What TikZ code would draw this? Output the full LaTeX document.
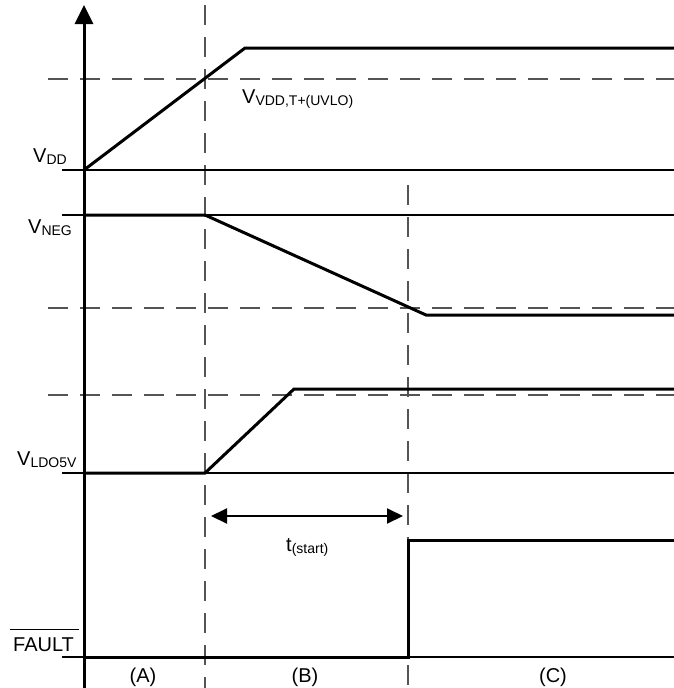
\documentclass[tikz,border=0pt]{standalone}
\usepackage{fontspec}
\setmainfont{Liberation Sans}
\usetikzlibrary{arrows.meta}

\newlength{\du}
\setlength{\du}{1pt}
\newlength{\barwd}
\newcommand{\lowsub}[1]{\raisebox{-2pt}{\fontsize{14}{14}\selectfont #1}}
\newcommand{\barred}[1]{\settowidth{\barwd}{#1}\makebox[0pt][l]{\kern-3pt\rule[21pt]{\dimexpr\barwd+8pt\relax}{1.3pt}}#1}
\definecolor{dashgray}{rgb}{0.33,0.33,0.33}

\tikzset{
  wave/.style={line width=3\du},
  levelline/.style={line width=1.3\du},
  thresh/.style={line width=2\du, draw=dashgray, dash pattern=on 20\du off 12\du},
  sig/.style={anchor=base west, inner sep=0pt, font=\fontsize{20}{24}\selectfont},
  phase/.style={anchor=base, inner sep=0pt, font=\fontsize{20}{24}\selectfont},
  axistip/.tip={Triangle[length=19pt,width=18pt]},
  dimtip/.tip={Triangle[length=16pt,width=15pt]},
}

\begin{document}
\begin{tikzpicture}
\pgftransformxscale{1.000000}
\pgftransformyscale{-1.000000}
\useasboundingbox (0\du,0\du) rectangle (674\du,688\du);
% thresholds
\draw[thresh] (48\du,79\du)--(674\du,79\du);
\draw[thresh] (48\du,308\du)--(674\du,308\du);
\draw[thresh] (48\du,395\du)--(674\du,395\du);
% phase markers
\draw[thresh] (205\du,5\du)--(205\du,688\du);
\draw[thresh] (408\du,185\du)--(408\du,688\du);
% zero levels
\draw[levelline] (62\du,170\du)--(674\du,170\du);
\draw[levelline] (62\du,215\du)--(674\du,215\du);
\draw[levelline] (62\du,473\du)--(674\du,473\du);
\draw[levelline] (62\du,657\du)--(674\du,657\du);
% axis
\draw[wave,-axistip] (84\du,688\du)--(84\du,5\du);
% waveforms
\draw[wave] (84\du,170\du)--(245\du,48\du)--(674\du,48\du);
\draw[wave] (84\du,215\du)--(205\du,215\du)--(426\du,315\du)--(674\du,315\du);
\draw[wave] (84\du,473\du)--(205\du,473\du)--(294\du,389\du)--(674\du,389\du);
\draw[wave] (84\du,657\du)--(408\du,657\du)--(408\du,540\du)--(674\du,540\du);
% t(start)
\coordinate (tsL) at (211\du,516\du);
\coordinate (tsR) at (403\du,516\du);
\draw[line width=2\du,dimtip-dimtip] (tsL)--(tsR);
\node[sig] (tstart) at (286\du,551\du) {t\lowsub{(start)}};
% labels
\node[sig] (vdd) at (33\du,162\du) {V\lowsub{DD}};
\node[sig] (uvlo) at (242\du,103\du) {V\lowsub{VDD,T+(UVLO)}};
\node[sig] (vneg) at (28\du,233\du) {V\lowsub{NEG}};
\node[sig] (vldo) at (17\du,465\du) {V\lowsub{LDO5V}};
\node[sig] (fault) at (13\du,651\du) {\barred{FAULT}};
\node[phase] (phA) at (143\du,682\du) {(A)};
\node[phase] (phB) at (305\du,682\du) {(B)};
\node[phase] (phC) at (553\du,682\du) {(C)};
\end{tikzpicture}
\end{document}
